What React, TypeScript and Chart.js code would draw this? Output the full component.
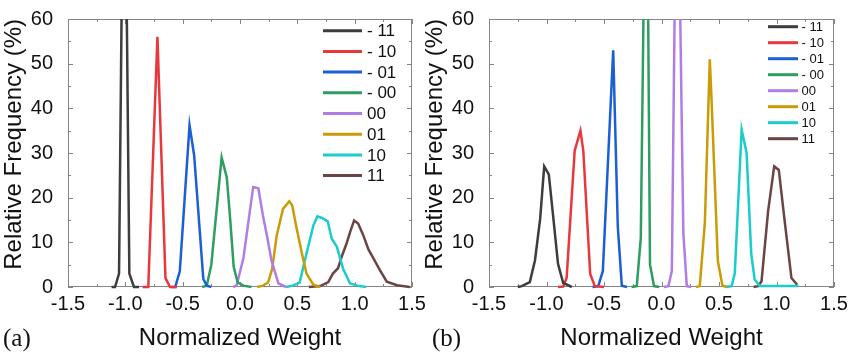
import React, { useEffect, useRef } from 'react';
import { Chart, registerables } from 'chart.js';

Chart.register(...registerables);

// ---------- Shared labels / colours ----------
const SERIES_LABELS = ['- 11', '- 10', '- 01', '- 00', '00', '01', '10', '11'];
const SERIES_COLORS = ['#3d3d3d', '#e8383d', '#1c5fd4', '#2e9d62', '#b07de6', '#c99c06', '#1ccbcb', '#6b4545'];
const X_TITLE = 'Normalized Weight';
const Y_TITLE = 'Relative Frequency (%)';
const X_MIN = -1.5;
const X_MAX = 1.5;
const Y_MIN = 0;
const Y_MAX = 60;

// ---------- Panel (a) ----------
const A_M11_X = [-1.12, -1.09, -1.055, -1.03, -0.99, -0.965, -0.925, -0.88];
const A_M11_Y = [0, 0, 3, 68, 68, 3, 0, 0];
const A_M10_X = [-0.85, -0.8, -0.72, -0.65, -0.61, -0.55];
const A_M10_Y = [0, 0, 56, 2, 0, 0];
const A_M01_X = [-0.6, -0.565, -0.525, -0.44, -0.4, -0.32, -0.29, -0.25];
const A_M01_Y = [0, 0, 3.5, 36.2, 29.5, 1.8, 0.3, 0];
const A_M00_X = [-0.33, -0.29, -0.25, -0.16, -0.115, -0.085, -0.055, -0.02, 0.03, 0.1];
const A_M00_Y = [0, 0.3, 5, 29, 24.5, 15, 4.5, 1, 0.3, 0];
const A_00_X = [-0.06, -0.03, 0.03, 0.115, 0.16, 0.2, 0.235, 0.275, 0.335, 0.4];
const A_00_Y = [0, 0.3, 6.5, 22.4, 22.1, 16, 11.5, 5.9, 0.8, 0];
const A_01_X = [0.15, 0.2, 0.245, 0.28, 0.32, 0.375, 0.43, 0.455, 0.495, 0.54, 0.58, 0.64, 0.7];
const A_01_Y = [0, 0.3, 1, 4, 11.5, 17.5, 19.2, 18.3, 13, 7.5, 3, 0.5, 0];
const A_10_X = [0.4, 0.46, 0.52, 0.58, 0.64, 0.675, 0.72, 0.765, 0.8, 0.845, 0.9, 0.96, 1.04, 1.1];
const A_10_Y = [0, 0.3, 1, 7.5, 13.8, 15.8, 15.4, 14.7, 10.8, 9, 4, 0.8, 0.2, 0];
const A_11_X = [0.6, 0.7, 0.77, 0.81, 0.855, 0.89, 0.93, 0.96, 0.995, 1.03, 1.075, 1.12, 1.16, 1.22, 1.28, 1.37, 1.48];
const A_11_Y = [0, 0.2, 1.1, 3, 4.2, 7, 9.8, 12.3, 14.9, 14.2, 11.6, 8.4, 6.6, 3.8, 1.2, 0.4, 0];

// ---------- Panel (b) ----------
const B_M11_X = [-1.25, -1.215, -1.145, -1.1, -1.055, -1.02, -0.98, -0.94, -0.9, -0.855, -0.78];
const B_M11_Y = [0, 0.2, 1.1, 6, 15.3, 27, 25.2, 15.3, 5.2, 0.9, 0];
const B_M10_X = [-0.9, -0.855, -0.825, -0.755, -0.705, -0.68, -0.62, -0.58, -0.5];
const B_M10_Y = [0, 0.1, 2, 30.5, 35, 30.5, 2.9, 0.2, 0];
const B_M01_X = [-0.6, -0.55, -0.51, -0.42, -0.38, -0.345, -0.3];
const B_M01_Y = [0, 0.2, 3.6, 53, 13.5, 0.3, 0];
const B_M00_X = [-0.26, -0.215, -0.18, -0.15, -0.12, -0.1, -0.065, -0.02];
const B_M00_Y = [0, 0.2, 11, 75, 75, 5, 0.2, 0];
const B_00_X = [0.02, 0.06, 0.09, 0.12, 0.155, 0.19, 0.22, 0.26];
const B_00_Y = [0, 0.2, 3.6, 75, 75, 12, 0.2, 0];
const B_01_X = [0.3, 0.333, 0.377, 0.42, 0.435, 0.49, 0.53, 0.57];
const B_01_Y = [0, 0.2, 14.4, 51, 42, 5.8, 0.3, 0];
const B_10_X = [0.56, 0.61, 0.637, 0.697, 0.74, 0.78, 0.81, 0.855, 1.19];
const B_10_Y = [0, 0.2, 3, 35.2, 30, 7.5, 1.7, 0.2, 0.2];
const B_11_X = [0.8, 0.84, 0.87, 0.927, 0.98, 1.02, 1.07, 1.13, 1.18];
const B_11_Y = [0, 0.2, 1.3, 17, 27, 26.2, 15, 2, 0.5];

const A_SERIES = [
  [A_M11_X, A_M11_Y], [A_M10_X, A_M10_Y], [A_M01_X, A_M01_Y], [A_M00_X, A_M00_Y],
  [A_00_X, A_00_Y], [A_01_X, A_01_Y], [A_10_X, A_10_Y], [A_11_X, A_11_Y],
];
const B_SERIES = [
  [B_M11_X, B_M11_Y], [B_M10_X, B_M10_Y], [B_M01_X, B_M01_Y], [B_M00_X, B_M00_Y],
  [B_00_X, B_00_Y], [B_01_X, B_01_Y], [B_10_X, B_10_Y], [B_11_X, B_11_Y],
];

const FAMILY = '"Liberation Sans", Arial, Helvetica, sans-serif';
const TEXT_COLOR = '#111111';
const AXIS_COLOR = '#858585';

type LegendCfg = { x0: number; x1: number; tx: number; y0: number; dy: number; size: number; lw: number };

function buildDatasets(series: number[][][]) {
  return series.map(([xs, ys], i) => ({
    label: SERIES_LABELS[i],
    data: xs.map((x, j) => ({ x, y: ys[j] })),
    borderColor: SERIES_COLORS[i],
    backgroundColor: SERIES_COLORS[i],
    borderWidth: 2.5,
    pointRadius: 0,
    tension: 0,
    fill: false,
    clip: { left: 2, right: 2, top: 0, bottom: 2 },
  }));
}

function framePlugin() {
  return {
    id: 'frameTicks',
    beforeDatasetsDraw(chart: any) {
      const { ctx, chartArea } = chart;
      const { left, right, top, bottom } = chartArea;
      const xs = chart.scales.x;
      const ys = chart.scales.y;
      ctx.save();
      ctx.strokeStyle = AXIS_COLOR;
      ctx.lineWidth = 1;
      ctx.strokeRect(left + 0.5, top + 0.5, right - left - 1, bottom - top - 1);
      ctx.beginPath();
      for (let k = 0; k <= 12; k++) {
        const v = X_MIN + k * 0.25;
        const px = Math.round(xs.getPixelForValue(v)) + 0.5;
        const len = k % 2 === 0 ? 5 : 3;
        ctx.moveTo(px, bottom);
        ctx.lineTo(px, bottom - len);
        ctx.moveTo(px, top);
        ctx.lineTo(px, top + len);
      }
      for (let k = 0; k <= 12; k++) {
        const v = Y_MIN + k * 5;
        const py = Math.round(ys.getPixelForValue(v)) + 0.5;
        const len = k % 2 === 0 ? 5 : 3;
        ctx.moveTo(left, py);
        ctx.lineTo(left + len, py);
        ctx.moveTo(right, py);
        ctx.lineTo(right - len, py);
      }
      ctx.stroke();
      ctx.restore();
    },
  };
}

function legendPlugin(cfg: LegendCfg) {
  return {
    id: 'lineLegend',
    afterDatasetsDraw(chart: any) {
      const { ctx } = chart;
      ctx.save();
      ctx.font = `${cfg.size}px ${FAMILY}`;
      ctx.textBaseline = 'middle';
      ctx.textAlign = 'left';
      chart.data.datasets.forEach((ds: any, i: number) => {
        const y = cfg.y0 + i * cfg.dy;
        ctx.strokeStyle = ds.borderColor;
        ctx.lineWidth = cfg.lw;
        ctx.beginPath();
        ctx.moveTo(cfg.x0, y);
        ctx.lineTo(cfg.x1, y);
        ctx.stroke();
        ctx.fillStyle = TEXT_COLOR;
        ctx.fillText(ds.label, cfg.tx, y + 1);
      });
      ctx.restore();
    },
  };
}

function makeConfig(series: number[][][], legend: LegendCfg): any {
  return {
    type: 'line',
    data: { datasets: buildDatasets(series) },
    options: {
      animation: false,
      responsive: false,
      maintainAspectRatio: false,
      layout: { padding: { top: 11, right: 15, bottom: 0, left: 0 } },
      plugins: { legend: { display: false }, tooltip: { enabled: false } },
      scales: {
        x: {
          type: 'linear',
          min: X_MIN,
          max: X_MAX,
          grid: { display: false },
          border: { display: false },
          ticks: {
            stepSize: 0.5,
            padding: -3,
            maxRotation: 0,
            autoSkip: false,
            color: TEXT_COLOR,
            font: { size: 20, family: FAMILY },
            callback: (v: any) => Number(v).toFixed(1),
          },
          title: {
            display: true,
            text: X_TITLE,
            color: TEXT_COLOR,
            font: { size: 24, family: FAMILY },
            padding: { top: 0, bottom: 0 },
          },
          afterFit: (s: any) => { s.height = 66; },
        },
        y: {
          type: 'linear',
          min: Y_MIN,
          max: Y_MAX,
          grid: { display: false },
          border: { display: false },
          ticks: {
            stepSize: 10,
            padding: 7,
            color: TEXT_COLOR,
            font: { size: 20, family: FAMILY },
          },
          title: {
            display: true,
            text: Y_TITLE,
            align: 'end',
            color: TEXT_COLOR,
            font: { size: 24, family: FAMILY },
            padding: 0,
          },
          afterFit: (s: any) => { s.width = 68; },
        },
      },
    },
    plugins: [framePlugin(), legendPlugin(legend)],
  };
}

function Panel(props: { series: number[][][]; legend: LegendCfg; left: number; width: number }) {
  const ref = useRef<HTMLCanvasElement | null>(null);
  useEffect(() => {
    if (!ref.current) return;
    const chart = new Chart(ref.current, makeConfig(props.series, props.legend));
    return () => chart.destroy();
  }, []);
  return (
    <canvas
      ref={ref}
      width={props.width}
      height={353}
      style={{ position: 'absolute', left: props.left, top: 0, width: props.width, height: 353 }}
    />
  );
}

const LEGEND_A: LegendCfg = { x0: 323, x1: 362, tx: 367, y0: 30.7, dy: 20.7, size: 17, lw: 3 };
const LEGEND_B: LegendCfg = { x0: 347, x1: 377, tx: 380.5, y0: 26.7, dy: 16, size: 13, lw: 3 };

export default function App() {
  const labelStyle: React.CSSProperties = {
    position: 'absolute',
    top: 323,
    fontFamily: '"Liberation Serif", "Times New Roman", serif',
    fontSize: 25,
    lineHeight: '30px',
    color: TEXT_COLOR,
  };
  return (
    <div style={{ position: 'fixed', left: 0, top: 0, width: 850, height: 353, background: '#fff', overflow: 'hidden' }}>
      <Panel series={A_SERIES} legend={LEGEND_A} left={0} width={427} />
      <Panel series={B_SERIES} legend={LEGEND_B} left={421} width={428} />
      <span style={{ ...labelStyle, left: 3 }}>(a)</span>
      <span style={{ ...labelStyle, left: 432 }}>(b)</span>
    </div>
  );
}
